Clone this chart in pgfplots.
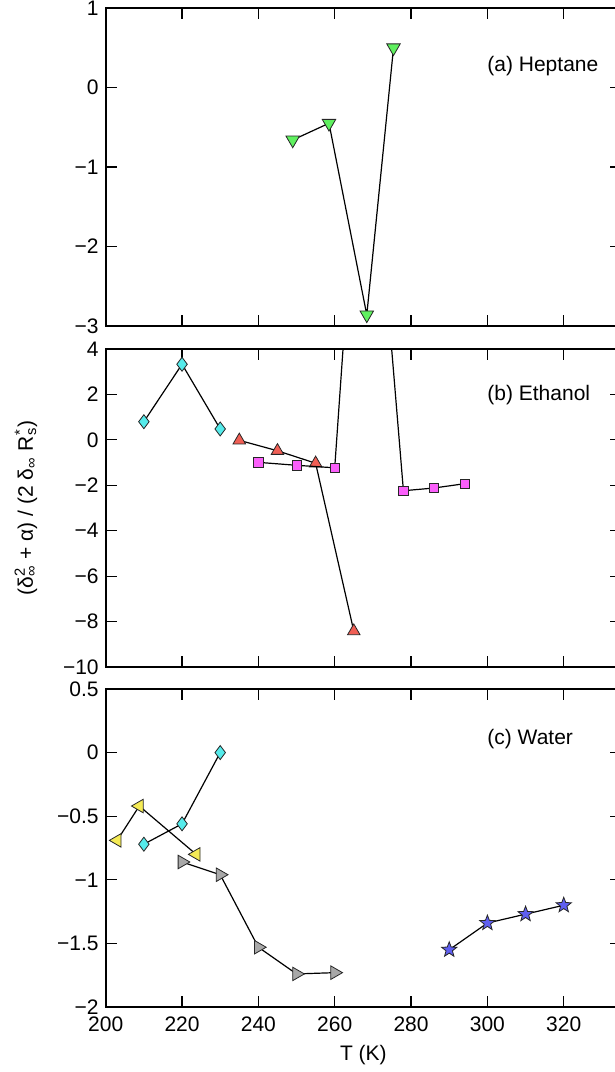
\documentclass[border=0pt]{standalone}
\usepackage{pgfplots}
\pgfplotsset{compat=1.18}
\usepackage{fontspec}
\setmainfont{Liberation Sans}

\definecolor{cgreen}{RGB}{95,240,95}
\definecolor{ccyan}{RGB}{85,235,235}
\definecolor{cred}{RGB}{240,95,85}
\definecolor{cmag}{RGB}{250,95,250}
\definecolor{cyel}{RGB}{245,235,85}
\definecolor{cgray}{RGB}{168,168,168}
\definecolor{cblue}{RGB}{95,95,240}

% filled five-point star
\pgfdeclareplotmark{fstar}{%
  \pgfpathmoveto{\pgfpointpolar{90}{\pgfplotmarksize}}%
  \pgfpathlineto{\pgfpointpolar{126}{0.42\pgfplotmarksize}}%
  \pgfpathlineto{\pgfpointpolar{162}{\pgfplotmarksize}}%
  \pgfpathlineto{\pgfpointpolar{198}{0.42\pgfplotmarksize}}%
  \pgfpathlineto{\pgfpointpolar{234}{\pgfplotmarksize}}%
  \pgfpathlineto{\pgfpointpolar{270}{0.42\pgfplotmarksize}}%
  \pgfpathlineto{\pgfpointpolar{306}{\pgfplotmarksize}}%
  \pgfpathlineto{\pgfpointpolar{342}{0.42\pgfplotmarksize}}%
  \pgfpathlineto{\pgfpointpolar{18}{\pgfplotmarksize}}%
  \pgfpathlineto{\pgfpointpolar{54}{0.42\pgfplotmarksize}}%
  \pgfpathclose
  \pgfusepathqfillstroke
}

\pgfplotsset{
  panel/.style={
    scale only axis,
    width=257.65pt, height=159pt,
    xmin=200, xmax=335,
    xtick={200,220,...,340},
    axis line style={line width=1pt},
    every tick/.style={black, line width=0.6pt},
    major tick length=5.5pt,
    tick align=inside,
    clip mode=individual,
    font=\fontsize{10.5}{12.6}\selectfont,
  },
  ser/.style n args={4}{black, line width=0.6pt, mark=#1, mark size=#2,
    mark options={draw=black!85, line width=0.4pt, fill=#3, rotate=#4}},
}

\begin{document}
\begin{tikzpicture}

% (a) heptane
\begin{axis}[panel, name=a, at={(0pt,0pt)}, anchor=north west,
  ymin=-3, ymax=1, ytick={-3,-2,-1,0,1},
  yticklabels={−3,−2,−1,0,1}, xticklabels={}]
\addplot[ser={triangle*}{3.9pt}{cgreen}{180}] coordinates {
  (249,-0.66) (258.5,-0.45) (268.4,-2.86) (275.4,0.50)
};
\node[anchor=west, inner sep=0pt] at (rel axis cs:0.74,0.818) {(a) Heptane};
\end{axis}

% (b) ethanol
\begin{axis}[panel, name=b, at={(0pt,-170.5pt)}, anchor=north west,
  ymin=-10, ymax=4, ytick={-10,-8,...,4},
  yticklabels={−10,−8,−6,−4,−2,0,2,4}, xticklabels={},
  ylabel={(δ\rlap{\textsuperscript{2}}\textsubscript{∞} + α) / (2 δ\textsubscript{∞} R\rlap{\textsuperscript{*}}\textsubscript{s})},
  ylabel style={at={(axis description cs:-0.155,0.5)}, anchor=center}]
\addplot[ser={diamond*}{3.5pt}{ccyan}{0}] coordinates {
  (210,0.80) (220,3.33) (230,0.48)
};
\addplot[ser={triangle*}{3.6pt}{cred}{0}] coordinates {
  (235,-0.02) (245,-0.48) (255,-1.03) (265,-8.42)
};
\addplot[ser={square*}{2.3pt}{cmag}{0}] coordinates {
  (240,-0.99) (250,-1.12) (260,-1.23) (268,18) (278,-2.24) (286,-2.12) (294,-1.93)
};
\node[anchor=west, inner sep=0pt] at (rel axis cs:0.74,0.855) {(b) Ethanol};
\end{axis}

% (c) water
\begin{axis}[panel, name=c, at={(0pt,-340.5pt)}, anchor=north west,
  ymin=-2, ymax=0.5, ytick={-2,-1.5,...,0.5},
  yticklabels={−2,−1.5,−1,−0.5,0,0.5},
  xticklabels={200,220,240,260,280,300,320,340},
  xticklabel style={yshift=-1.5pt},
  xlabel={T (K)}]
\addplot[ser={triangle*}{3.9pt}{cyel}{90}] coordinates {
  (203,-0.69) (208.8,-0.42) (223.7,-0.80)
};
\addplot[ser={diamond*}{3.5pt}{ccyan}{0}] coordinates {
  (210,-0.72) (220,-0.56) (230,0.0)
};
\addplot[ser={triangle*}{3.9pt}{cgray}{-90}] coordinates {
  (220,-0.86) (230,-0.96) (240,-1.53) (250,-1.74) (260,-1.73)
};
\addplot[ser={fstar}{4pt}{cblue}{0}] coordinates {
  (290,-1.55) (300,-1.34) (310,-1.27) (320,-1.20)
};
\node[anchor=west, inner sep=0pt] at (rel axis cs:0.74,0.843) {(c) Water};
\end{axis}

\pgfresetboundingbox
\useasboundingbox (-52.85pt,4pt) rectangle (254.65pt,-532pt);
\end{tikzpicture}
\end{document}
